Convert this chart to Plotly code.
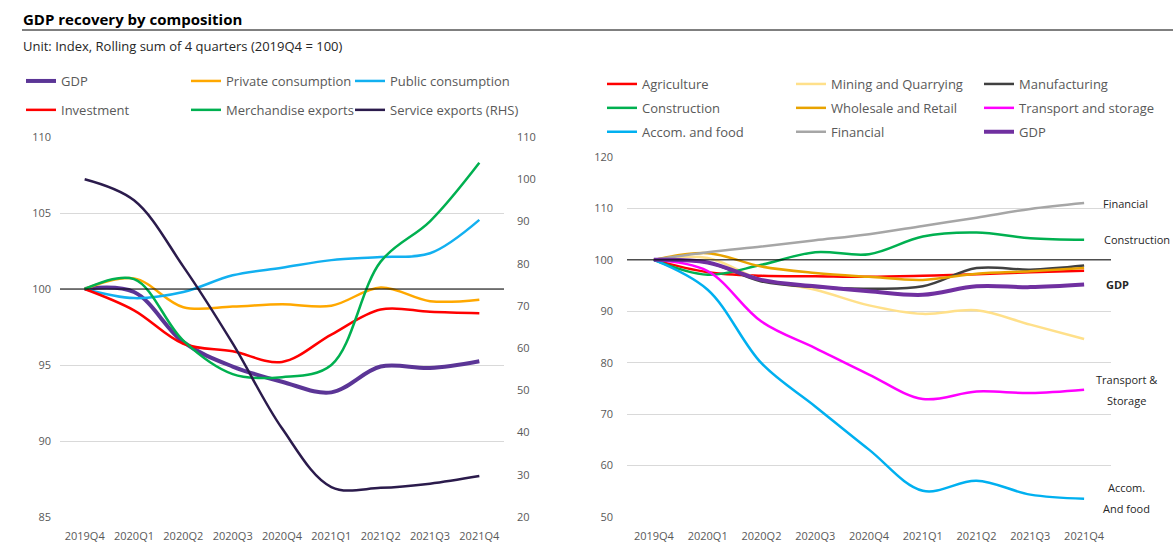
import plotly.graph_objects as go

W, H = 1173, 543

quarters = ["2019Q4", "2020Q1", "2020Q2", "2020Q3", "2020Q4",
            "2021Q1", "2021Q2", "2021Q3", "2021Q4"]

# Left chart (index, 2019Q4 = 100)
gdp = [100, 99.8, 96.5, 94.9, 93.9, 93.2, 94.9, 94.8, 95.25]
private_consumption = [100, 100.7, 98.8, 98.85, 99.0, 98.9, 100.1, 99.2, 99.3]
public_consumption = [100, 99.4, 99.8, 100.9, 101.4, 101.9, 102.1, 102.35, 104.55]
investment = [100, 98.6, 96.4, 95.9, 95.2, 97.0, 98.65, 98.5, 98.4]
merchandise_exports = [100, 100.65, 96.6, 94.4, 94.2, 95.0, 101.8, 104.45, 108.3]
service_exports = [100, 95.0, 79.3, 61.1, 41.0, 27.1, 26.9, 27.9, 29.7]

# Right chart (by sector)
agriculture = [100, 97.6, 96.9, 96.8, 96.7, 96.9, 97.2, 97.6, 97.9]
mining = [100, 100.35, 96.1, 94.2, 91.15, 89.5, 90.2, 87.4, 84.6]
manufacturing = [100, 99.5, 95.8, 94.7, 94.4, 94.85, 98.4, 98.1, 98.9]
construction = [100, 97.1, 99.05, 101.5, 101.1, 104.55, 105.3, 104.2, 103.9]
wholesale = [100, 101.3, 98.7, 97.45, 96.7, 96.1, 97.3, 97.8, 98.4]
transport = [100, 97.8, 88.0, 82.85, 77.7, 72.95, 74.4, 74.1, 74.75]
accom_food = [100, 94.2, 79.9, 71.5, 63.1, 55.1, 57.05, 54.35, 53.55]
financial = [100, 101.5, 102.6, 103.8, 105.0, 106.6, 108.2, 109.9, 111.05]
gdp_sector = [100, 99.5, 96.1, 94.85, 93.9, 93.2, 94.85, 94.7, 95.2]

left_yticks = [85, 90, 95, 100, 105, 110]
left_y2ticks = [20, 30, 40, 50, 60, 70, 80, 90, 100, 110]
right_yticks = [50, 60, 70, 80, 90, 100, 110, 120]

FONT = "Open Sans"
GRAY = "#595959"
GRID = "#D9D9D9"

fig = go.Figure()

def add(name, y, color, width, xaxis, yaxis, legend):
    fig.add_trace(go.Scatter(
        x=quarters, y=y, name=name, mode="lines", legendgroup=name + legend,
        line=dict(color=color, width=width, shape="spline", smoothing=1.0),
        xaxis=xaxis, yaxis=yaxis, legend=legend, hoverinfo="skip"))

# left chart (one legend per column)
add("GDP", gdp, "#5B3596", 4, "x", "y", "legend")
add("Private consumption", private_consumption, "#FFA800", 2.5, "x", "y", "legend2")
add("Public consumption", public_consumption, "#12B0F0", 2.5, "x", "y", "legend3")
add("Investment", investment, "#FF0000", 2.5, "x", "y", "legend")
add("Merchandise exports", merchandise_exports, "#00B050", 2.5, "x", "y", "legend2")
add("Service exports (RHS)", service_exports, "#2B1B4C", 2.5, "x", "y3", "legend3")

# right chart
add("Agriculture", agriculture, "#FF0000", 2.5, "x2", "y2", "legend4")
add("Mining and Quarrying", mining, "#FFE08A", 2.5, "x2", "y2", "legend5")
add("Manufacturing", manufacturing, "#404040", 2.5, "x2", "y2", "legend6")
add("Construction", construction, "#00B050", 2.5, "x2", "y2", "legend4")
add("Wholesale and Retail", wholesale, "#E8A300", 2.5, "x2", "y2", "legend5")
add("Transport and storage", transport, "#FF00FF", 2.5, "x2", "y2", "legend6")
add("Accom. and food", accom_food, "#00B0F0", 2.5, "x2", "y2", "legend4")
add("Financial", financial, "#A6A6A6", 2.5, "x2", "y2", "legend5")
add("GDP", gdp_sector, "#7030A0", 4, "x2", "y2", "legend6")

def px(v):
    return v / W

def py(v):
    return 1 - v / H

xcommon = dict(type="category", range=[-0.5, 8.5], showgrid=False, zeroline=False,
               showline=False, ticks="outside", ticklen=9, tickcolor="rgba(0,0,0,0)",
               tickfont=dict(family=FONT, size=11, color=GRAY), fixedrange=True,
               automargin=False)
ycommon = dict(showgrid=True, gridcolor=GRID, gridwidth=1, zeroline=False, showline=False,
               tickfont=dict(family=FONT, size=11, color=GRAY), ticks="", fixedrange=True,
               automargin=False)

leg_common = dict(orientation="v", font=dict(family=FONT, size=13, color=GRAY),
                  bgcolor="rgba(0,0,0,0)", borderwidth=0, traceorder="grouped",
                  xanchor="left", yanchor="top", itemclick=False, itemdoubleclick=False)
left_leg = dict(tracegroupgap=9, **leg_common)
right_leg = dict(tracegroupgap=4, **leg_common)

fig.update_layout(
    width=W, height=H,
    margin=dict(l=0, r=0, t=0, b=0, pad=0, autoexpand=False),
    paper_bgcolor="white", plot_bgcolor="white",
    font=dict(family=FONT, color=GRAY),
    xaxis=dict(domain=[px(60), px(504)], anchor="y", **xcommon),
    yaxis=dict(domain=[py(517), py(137)], anchor="x", range=[85, 110],
               tickvals=left_yticks, ticklabelstandoff=8, **ycommon),
    yaxis3=dict(overlaying="y", side="right", anchor="x", range=[20, 110],
                tickvals=left_y2ticks, showgrid=False, zeroline=False, showline=False,
                tickfont=dict(family=FONT, size=11, color=GRAY), fixedrange=True,
                automargin=False, ticklabelstandoff=12),
    xaxis2=dict(domain=[px(627), px(1111)], anchor="y2", **xcommon),
    yaxis2=dict(domain=[py(517), py(157)], anchor="x2", range=[50, 120],
                tickvals=right_yticks, ticklabelstandoff=13, **ycommon),
    legend=dict(x=px(21), y=py(66), **left_leg),
    legend2=dict(x=px(186), y=py(66), **left_leg),
    legend3=dict(x=px(350), y=py(66), **left_leg),
    legend4=dict(x=px(602), y=py(69), **right_leg),
    legend5=dict(x=px(791), y=py(69), **right_leg),
    legend6=dict(x=px(979), y=py(69), **right_leg),
    showlegend=True,
)

# reference lines at 100
fig.add_shape(type="line", xref="x domain", yref="y", x0=0, x1=1, y0=100, y1=100,
              line=dict(color="black", width=1))
fig.add_shape(type="line", xref="x2 domain", yref="y2", x0=0, x1=1, y0=100, y1=100,
              line=dict(color="black", width=1))
# title rule
fig.add_shape(type="line", xref="paper", yref="paper", x0=px(22), x1=1, y0=py(30), y1=py(30),
              line=dict(color="black", width=1))

fig.add_annotation(text="<b>GDP recovery by composition</b>", xref="paper", yref="paper",
                   x=px(21), y=py(19), xanchor="left", yanchor="middle", showarrow=False,
                   font=dict(family=FONT, size=15, color="black"))
fig.add_annotation(text="Unit: Index, Rolling sum of 4 quarters (2019Q4 = 100)",
                   xref="paper", yref="paper", x=px(21), y=py(46), xanchor="left",
                   yanchor="middle", showarrow=False,
                   font=dict(family=FONT, size=13, color="#262626"))

# end labels on right chart
lab_font = dict(family=FONT, size=11, color="#262626")
end_labels = [
    ("Financial", financial[-1], 1125, 0),
    ("Construction", construction[-1], 1137, 0),
    ("<b>GDP</b>", gdp_sector[-1], 1117, 0),
    ("Transport &", transport[-1], 1126, 10),
    ("Storage", transport[-1], 1126, -11),
    ("Accom.", accom_food[-1], 1126, 11),
    ("And food", accom_food[-1], 1126, -10),
]
for text, yv, xc, ys in end_labels:
    fig.add_annotation(text=text, xref="paper", yref="y2", x=px(xc), y=yv, yshift=ys,
                       xanchor="center", yanchor="middle", showarrow=False, font=lab_font)

fig.write_html(
    "out.html",
    config={"displayModeBar": False},
    post_script=("var s=document.documentElement.style, b=document.body.style;"
                 "s.margin='0';s.padding='0';s.overflow='hidden';"
                 "b.margin='0';b.padding='0';b.overflow='hidden';"
                 "var d=document.getElementById('{plot_id}');"
                 "d.style.position='fixed';d.style.left='0px';d.style.top='0px';"
                 "d.style.margin='0';"),
)
